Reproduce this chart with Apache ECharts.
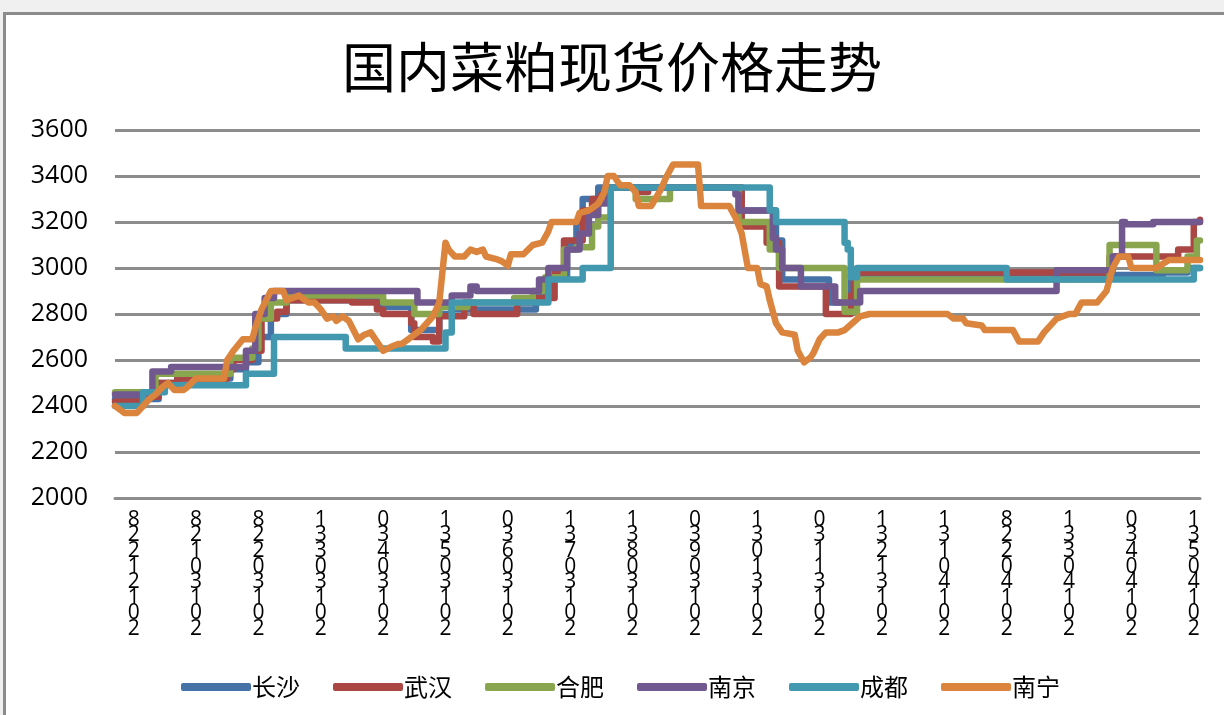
<!DOCTYPE html>
<html>
<head>
    <meta charset="utf-8">
    <title>国内菜粕现货价格走势</title>
    <script src="https://cdn.jsdelivr.net/npm/echarts@6.0.0/dist/echarts.min.js"></script>
    <style>
        body { margin: 0; background: #f0f0f0; }
    </style>
</head>
<body>
    <div id="main" style="width: 1224px;height:715px;"></div>
    <script type="text/javascript">
        // x 轴：每日一个点，月末日期作为刻度标签
        const pointCount = 349;
        const tickStart = 6, tickStep = 20;
        const tickLabels = ['2012/12/28', '2013/01/28', '2013/02/28', '2013/03/31', '2013/04/30', '2013/05/31',
            '2013/06/30', '2013/07/31', '2013/08/31', '2013/09/30', '2013/10/31', '2013/11/30',
            '2013/12/31', '2014/01/31', '2014/02/28', '2014/03/31', '2014/04/30', '2014/05/31'];

        const names = ['长沙', '武汉', '合肥', '南京', '成都', '南宁'];
        const colors = ['#4572A7', '#AA4643', '#89A54E', '#71588F', '#4198AF', '#DB843D'];

        // [日序号, 价格]，阶梯式报价只记变化点
        const changsha = [[0, 2430], [14, 2500], [20, 2520], [37, 2560], [42, 2590], [46, 2700], [50, 2800], [55, 2860],
            [86, 2830], [95, 2730], [104, 2800], [108, 2820], [135, 2880], [140, 2960], [145, 3100], [148, 3200],
            [150, 3300], [155, 3350], [201, 3250], [212, 3120], [214, 2950], [229, 2850], [236, 2970], [336, 2980],
            [344, 3000], [348, 3000]];
        const wuhan = [[0, 2420], [9, 2440], [14, 2500], [20, 2520], [36, 2560], [38, 2600], [44, 2640], [47, 2780],
            [52, 2810], [55, 2860], [76, 2850], [84, 2820], [86, 2800], [95, 2760], [96, 2700], [102, 2680],
            [104, 2790], [112, 2850], [115, 2800], [129, 2850], [134, 2870], [141, 2980], [144, 3120], [150, 3250],
            [153, 3300], [156, 3320], [158, 3350], [168, 3330], [171, 3350], [201, 3180], [209, 3110], [213, 2920],
            [228, 2800], [236, 2880], [237, 2980], [319, 3050], [341, 3080], [346, 3200], [348, 3210]];
        const hefei = [[0, 2460], [13, 2540], [37, 2610], [44, 2650], [46, 2780], [50, 2850], [55, 2880], [86, 2850],
            [96, 2800], [104, 2830], [113, 2850], [128, 2870], [134, 2900], [138, 2960], [144, 3080], [148, 3090],
            [153, 3180], [155, 3220], [159, 3350], [167, 3300], [178, 3350], [200, 3200], [210, 3080], [213, 3000],
            [234, 2810], [238, 2950], [319, 3100], [334, 2990], [344, 3050], [347, 3120], [348, 3120]];
        const nanjing = [[0, 2450], [12, 2550], [18, 2570], [42, 2640], [45, 2800], [48, 2870], [51, 2900],
            [97, 2850], [108, 2880], [114, 2920], [116, 2900], [136, 2950], [139, 3000], [145, 3080], [149, 3150],
            [152, 3230], [155, 3280], [158, 3320], [159, 3350], [199, 3320], [200, 3250], [211, 3130], [212, 3080],
            [214, 3000], [220, 2920], [231, 2850], [239, 2900], [302, 2990], [320, 3050], [323, 3200], [324, 3190],
            [333, 3200], [348, 3200]];
        const chengdu = [[0, 2400], [9, 2460], [16, 2490], [42, 2540], [51, 2700], [74, 2650], [106, 2720],
            [108, 2850], [139, 2950], [150, 3000], [159, 3350], [210, 3250], [212, 3200], [234, 3110], [235, 3080],
            [236, 2960], [238, 3000], [286, 2950], [346, 3000], [348, 3000]];
        const nanning = [[0, 2400], [3, 2370], [7, 2370], [9, 2400], [11, 2430], [13, 2450], [15, 2480], [17, 2500],
            [19, 2470], [22, 2470], [23, 2480], [26, 2520], [35, 2520], [36, 2600], [38, 2640], [41, 2690], [44, 2690],
            [45, 2740], [47, 2820], [50, 2900], [54, 2900], [55, 2860], [57, 2870], [59, 2880], [62, 2850], [64, 2850],
            [66, 2820], [68, 2780], [70, 2790], [71, 2770], [73, 2790], [75, 2770], [78, 2690], [80, 2710], [82, 2720],
            [86, 2640], [89, 2660], [91, 2670], [92, 2670], [94, 2690], [96, 2710], [98, 2730], [100, 2760],
            [102, 2790], [104, 2850], [106, 3110], [107, 3080], [109, 3050], [112, 3050], [114, 3080], [116, 3070],
            [118, 3080], [119, 3050], [122, 3040], [124, 3030], [126, 3010], [127, 3060], [131, 3060], [134, 3100],
            [137, 3110], [139, 3160], [140, 3200], [148, 3200], [149, 3240], [152, 3250], [155, 3280], [157, 3330],
            [158, 3400], [160, 3400], [162, 3360], [165, 3360], [167, 3330], [168, 3270], [172, 3270], [175, 3340],
            [177, 3400], [179, 3450], [187, 3450], [188, 3270], [197, 3270], [199, 3220], [201, 3150], [203, 3000],
            [206, 3000], [207, 2930], [209, 2920], [210, 2860], [212, 2760], [214, 2720], [218, 2710], [219, 2640],
            [221, 2590], [223, 2610], [224, 2630], [226, 2690], [228, 2720], [232, 2720], [234, 2730], [239, 2790],
            [242, 2800], [267, 2800], [269, 2780], [272, 2780], [273, 2760], [278, 2750], [279, 2730], [288, 2730],
            [290, 2680], [296, 2680], [298, 2720], [302, 2780], [306, 2800], [308, 2800], [310, 2850], [315, 2850],
            [318, 2900], [320, 3000], [322, 3050], [325, 3050], [326, 3000], [334, 3000], [338, 3035], [348, 3035]];

        const seriesData = [changsha, wuhan, hefei, nanjing, chengdu, nanning];

        const categories = [];
        for (let i = 0; i < pointCount; i++) {
            const k = (i - tickStart) / tickStep;
            categories.push(i >= tickStart && Number.isInteger(k) && k < tickLabels.length ? tickLabels[k] : '');
        }

        var myChart = echarts.init(document.getElementById('main'));

        var option = {
            backgroundColor: '#ffffff',
            animation: false,
            color: colors,
            title: {
                text: '国内菜粕现货价格走势',
                left: 'center',
                top: 35,
                textStyle: { color: '#000', fontSize: 54, fontWeight: 'normal', fontFamily: 'Noto Sans CJK SC' }
            },
            graphic: {
                elements: [
                    { type: 'rect', shape: { x: 0, y: 0, width: 1224, height: 12 }, style: { fill: '#f0f0f0' } },
                    { type: 'rect', shape: { x: 0, y: 0, width: 3, height: 715 }, style: { fill: '#f0f0f0' } },
                    { type: 'rect', shape: { x: 3, y: 12, width: 1221, height: 3 }, style: { fill: '#8c8c8c' } },
                    { type: 'rect', shape: { x: 3, y: 12, width: 3, height: 703 }, style: { fill: '#8c8c8c' } }
                ]
            },
            legend: {
                data: names,
                left: 176,
                top: 670,
                icon: 'roundRect',
                itemWidth: 70,
                itemHeight: 8,
                itemGap: 33,
                textStyle: { color: '#000', fontSize: 24, fontFamily: 'Noto Sans CJK SC', padding: [0, 0, 0, -4] }
            },
            grid: {
                left: 115,
                right: 24,
                top: 130,
                bottom: 217,
                containLabel: false
            },
            xAxis: {
                type: 'category',
                data: categories,
                boundaryGap: false,
                axisLine: { show: true, lineStyle: { color: '#8c8c8c', width: 3 } },
                axisTick: { show: false },
                axisLabel: {
                    interval: function (index, value) { return value !== ''; },
                    margin: 14,
                    color: '#000',
                    fontSize: 21,
                    lineHeight: 15.6,
                    fontFamily: 'Open Sans',
                    verticalAlign: 'top',
                    formatter: function (value) {
                        return value.replace(/\//g, '').split('').reverse().join('\n');
                    }
                }
            },
            yAxis: {
                type: 'value',
                min: 2000,
                max: 3600,
                interval: 200,
                axisLine: { show: false },
                axisTick: { show: false },
                splitLine: { show: true, lineStyle: { color: '#8c8c8c', width: 3 } },
                axisLabel: {
                    color: '#000', fontSize: 25, fontFamily: 'Open Sans', margin: 27,
                    formatter: function (v) { return String(v); }
                }
            },
            series: names.map((name, i) => ({
                name: name,
                type: 'line',
                step: name === '南宁' ? false : 'end',
                data: seriesData[i],
                symbol: 'none',
                lineStyle: { width: 6.5, color: colors[i], cap: 'round', join: 'round' }
            }))
        };

        myChart.setOption(option);
    </script>
</body>
</html>
